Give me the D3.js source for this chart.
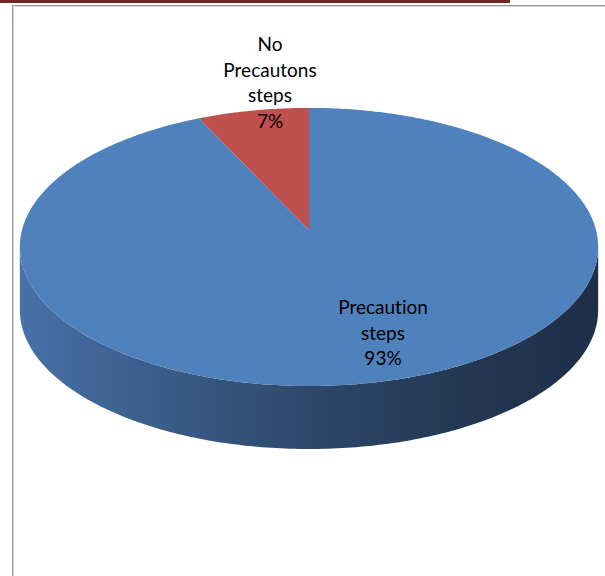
<!DOCTYPE html>
<html>
<head>
<meta charset="utf-8">
<script src="https://cdn.jsdelivr.net/npm/d3@7"></script>
<style>
  html, body { margin: 0; padding: 0; background: #ffffff; }
  svg { display: block; }
  text { font-family: Lato, "Open Sans", sans-serif; fill: #000; font-variant-ligatures: none; }
</style>
</head>
<body>
<svg id="chart" width="605" height="576"></svg>
<script>
// Share of respondents
const categories = ["Precaution steps", "No Precautons steps"];
const values = [93, 7];
const labelLines = [["Precaution", "steps", "93%"], ["No", "Precautons", "steps", "7%"]];
const colors = ["#4f81bd", "#c0504d"];

const W = 605, H = 576;
const svg = d3.select("#chart");

// page frame
svg.append("rect").attr("x", 0).attr("y", 0).attr("width", 510).attr("height", 3).attr("fill", "#722525");
svg.append("line").attr("x1", 12).attr("x2", W).attr("y1", 5.5).attr("y2", 5.5).attr("stroke", "#9a9a9a");
svg.append("line").attr("x1", 13).attr("x2", W).attr("y1", 6.5).attr("y2", 6.5).attr("stroke", "#d4d4d4");
svg.append("line").attr("x1", 12.5).attr("x2", 12.5).attr("y1", 5).attr("y2", H).attr("stroke", "#9a9a9a");
svg.append("line").attr("x1", 13.5).attr("x2", 13.5).attr("y1", 6).attr("y2", H).attr("stroke", "#d4d4d4");

// 3D pie geometry: a disc seen in perspective
const cx = 309, cy = 230;   // projected disc centre
const A = 287, B = 137;     // horizontal / vertical semi-axes
const persp = 0.122;        // near side appears larger
const depth = 63;

function project(angle, r = 1) {
  const u = r * Math.sin(angle), v = -r * Math.cos(angle);
  const w = 1 - persp * v;
  return [cx + A * u / w, cy + B * v / w];
}

const pie = d3.pie().sort(null).startAngle(0).endAngle(2 * Math.PI);
const arcs = pie(values);

function arcPoints(a0, a1, n) {
  const pts = [];
  for (let i = 0; i <= n; i++) pts.push(project(a0 + (a1 - a0) * i / n));
  return pts;
}

const line = d3.line();

// shading for the visible wall
const defs = svg.append("defs");
const grad = defs.append("linearGradient").attr("id", "wall")
  .attr("gradientUnits", "userSpaceOnUse")
  .attr("x1", cx - A).attr("x2", cx + A).attr("y1", 0).attr("y2", 0);
[[0, "#4771a8"], [0.22, "#3b5e8b"], [0.5, "#2e486a"], [0.78, "#233751"], [1, "#1e2f48"]]
  .forEach(([o, c]) => grad.append("stop").attr("offset", o).attr("stop-color", c));

// the wall runs between the leftmost and rightmost points of the rim
function extremeAngles() {
  const best = [0, 0];
  let minX = Infinity, maxX = -Infinity;
  for (let i = 0; i <= 3600; i++) {
    const a = i / 3600 * 2 * Math.PI;
    const [x] = project(a);
    if (x < minX) { minX = x; best[0] = a; }
    if (x > maxX) { maxX = x; best[1] = a; }
  }
  return best;
}
const [leftAng, rightAng] = extremeAngles();
const frontTop = arcPoints(rightAng, leftAng, 200);
const frontBottom = frontTop.map(([x, y]) => [x, y + depth]).reverse();
svg.append("path")
  .attr("d", line(frontTop.concat(frontBottom)) + "Z")
  .attr("fill", "url(#wall)");

// top face slices
svg.selectAll("path.slice").data(arcs).join("path")
  .attr("class", "slice")
  .attr("d", d => {
    const n = Math.max(8, Math.ceil((d.endAngle - d.startAngle) * 80));
    return line([[cx, cy]].concat(arcPoints(d.startAngle, d.endAngle, n))) + "Z";
  })
  .attr("fill", (d, i) => colors[i]);

// data labels
const labelPos = [[383, 314], [270, 51]];
const lineH = 25.5;
arcs.forEach((d, i) => {
  const t = svg.append("text")
    .attr("text-anchor", "middle")
    .attr("font-size", 19);
  labelLines[i].forEach((s, j) => {
    t.append("tspan").attr("x", labelPos[i][0]).attr("y", labelPos[i][1] + j * lineH).text(s);
  });
});
</script>
</body>
</html>
